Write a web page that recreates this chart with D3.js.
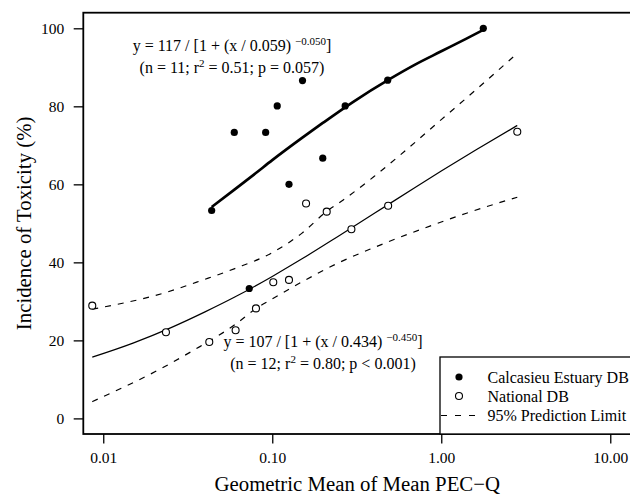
<!DOCTYPE html>
<html><head><meta charset="utf-8">
<script src="https://cdn.jsdelivr.net/npm/d3@7"></script>
<style>body{margin:0;background:#fff}svg{display:block}</style>
</head><body>
<svg id="c" width="630" height="496"></svg>
<script>
// Calcasieu Estuary DB (filled points)
const calcX = [0.0438, 0.0596, 0.0914, 0.107, 0.1256, 0.151, 0.199, 0.270, 0.482, 1.773, 0.0731];
const calcY = [53.3, 73.3, 73.3, 80.1, 60.0, 86.6, 66.7, 80.1, 86.7, 100.0, 33.3];
// National DB (open points)
const natX = [0.00861, 0.0235, 0.0424, 0.0607, 0.0801, 0.1014, 0.1256, 0.1585, 0.210, 0.294, 0.485, 2.817];
const natY = [28.9, 22.1, 19.6, 22.6, 28.2, 34.9, 35.5, 55.1, 53.0, 48.5, 54.5, 73.5];
const calcFitX = [0.0438, 0.06, 0.08, 0.1, 0.15, 0.2, 0.3, 0.5, 0.7, 1.0, 1.4, 1.773];
const calcFitY = [54.2, 58.7, 62.9, 66.2, 71.9, 75.8, 81.1, 87.1, 90.7, 94.1, 97.3, 99.6];
const natFitX = [0.00861, 0.015, 0.025, 0.04, 0.06, 0.1, 0.15, 0.25, 0.4, 0.7, 1.0, 1.6, 2.817];
const natFitY = [15.7, 19.3, 23.2, 27.3, 31.1, 36.4, 40.9, 46.9, 52.5, 59.2, 63.4, 68.8, 75.1];
const upX = [0.00861, 0.0227, 0.039, 0.06, 0.1, 0.15, 0.209, 0.263, 0.4, 0.571, 1.0, 1.6, 2.817];
const upY = [28.0, 32.1, 35.5, 38.4, 42.5, 47.5, 53.0, 56.0, 62.0, 67.5, 76.6, 84.2, 93.6];
const loX = [0.00861, 0.0227, 0.0373, 0.0424, 0.06, 0.081, 0.097, 0.15, 0.25, 0.4, 0.857, 1.41, 2.817];
const loY = [4.3, 13.1, 18.4, 19.8, 24.0, 28.3, 30.3, 35.0, 40.0, 43.8, 49.3, 52.6, 56.7];
// Axes
const xTicks = [0.01, 0.1, 1, 10];
const yTicks = [0, 20, 40, 60, 80, 100];
const xTitle = "Geometric Mean of Mean PEC\u2212Q";
const yTitle = "Incidence of Toxicity (%)";
const legendLabels = ["Calcasieu Estuary DB", "National DB", "95% Prediction Limit"];

const FONT = "'Liberation Serif','Times New Roman',serif";
const L = 83.3, R = 631.2, T = 12.7, B = 434;
const svg = d3.select("#c");
const x = d3.scaleLog().domain([0.00762, 13.3]).range([L, R]);
const y = d3.scaleLinear().domain([-4, 104]).range([B, T]);

// axes
const xa = svg.append("g").attr("transform", `translate(0,${B})`)
  .call(d3.axisBottom(x).tickValues(xTicks).tickFormat(d3.format(".2f")).tickSize(9.6).tickPadding(8.5));
const ya = svg.append("g").attr("transform", `translate(${L},0)`)
  .call(d3.axisLeft(y).tickValues(yTicks).tickFormat(d3.format("d")).tickSize(9.6).tickPadding(9.5));
[xa, ya].forEach(g => {
  g.select(".domain").remove();
  g.selectAll(".tick line").attr("stroke", "#000").attr("stroke-width", 1.3);
  g.selectAll(".tick text").attr("fill", "#000").style("font-family", FONT).style("font-size", "15.5px");
});

// lines
const zip = (xs, ys) => xs.map((v, i) => [v, ys[i]]);
const line = d3.line().x(d => x(d[0])).y(d => y(d[1])).curve(d3.curveMonotoneX);
svg.append("path").datum(zip(upX, upY)).attr("d", line).attr("fill", "none")
  .attr("stroke", "#000").attr("stroke-width", 1.2).attr("stroke-dasharray", "6,7");
svg.append("path").datum(zip(loX, loY)).attr("d", line).attr("fill", "none")
  .attr("stroke", "#000").attr("stroke-width", 1.2).attr("stroke-dasharray", "6,7");
svg.append("path").datum(zip(natFitX, natFitY)).attr("d", line).attr("fill", "none")
  .attr("stroke", "#000").attr("stroke-width", 1.2);
svg.append("path").datum(zip(calcFitX, calcFitY)).attr("d", line).attr("fill", "none")
  .attr("stroke", "#000").attr("stroke-width", 2.7);

// points
svg.append("g").selectAll("circle").data(zip(natX, natY)).join("circle")
  .attr("cx", d => x(d[0])).attr("cy", d => y(d[1])).attr("r", 3.5)
  .attr("fill", "#fff").attr("stroke", "#000").attr("stroke-width", 1.1);
svg.append("g").selectAll("circle").data(zip(calcX, calcY)).join("circle")
  .attr("cx", d => x(d[0])).attr("cy", d => y(d[1])).attr("r", 3.6).attr("fill", "#000");

// box
svg.append("rect").attr("x", L).attr("y", T).attr("width", R - L).attr("height", B - T)
  .attr("fill", "none").attr("stroke", "#000").attr("stroke-width", 1.8);

// equations
function eq(cx, by, parts) {
  const t = svg.append("text").attr("x", cx).attr("y", by).attr("text-anchor", "middle")
    .style("font-family", FONT).style("font-size", "16px").attr("fill", "#000");
  let raised = false;
  parts.forEach(p => {
    const sup = p[1];
    const ts = t.append("tspan").text(p[0]);
    if (sup && !raised) { ts.attr("dy", -6.5).style("font-size", "11px"); raised = true; }
    else if (!sup && raised) { ts.attr("dy", 6.5); raised = false; }
  });
}
eq(232, 51, [["y = 117 / [1 + (x / 0.059) ", false], ["\u22120.050", true], ["]", false]]);
eq(232, 73, [["(n = 11; r", false], ["2", true], [" = 0.51; p = 0.057)", false]]);
eq(323, 347, [["y = 107 / [1 + (x / 0.434) ", false], ["\u22120.450", true], ["]", false]]);
eq(323, 369, [["(n = 12; r", false], ["2", true], [" = 0.80; p < 0.001)", false]]);

// axis titles
svg.append("text").attr("x", (L + R) / 2).attr("y", 491).attr("text-anchor", "middle")
  .style("font-family", FONT).style("font-size", "20.8px").text(xTitle);
svg.append("text").attr("transform", `translate(31,${(T + B) / 2}) rotate(-90)`).attr("text-anchor", "middle")
  .style("font-family", FONT).style("font-size", "20.8px").text(yTitle);

// legend
const lg = svg.append("g");
lg.append("rect").attr("x", 440).attr("y", 357).attr("width", 192).attr("height", B - 357)
  .attr("fill", "#fff").attr("stroke", "#000").attr("stroke-width", 1.3);
const rows = [377, 396, 415.5];
lg.append("circle").attr("cx", 459).attr("cy", rows[0]).attr("r", 3.6).attr("fill", "#000");
lg.append("circle").attr("cx", 459).attr("cy", rows[1]).attr("r", 3.5).attr("fill", "#fff")
  .attr("stroke", "#000").attr("stroke-width", 1.1);
lg.append("line").attr("x1", 441).attr("x2", 476).attr("y1", rows[2]).attr("y2", rows[2])
  .attr("stroke", "#000").attr("stroke-width", 1.2).attr("stroke-dasharray", "6,8");
legendLabels.forEach((s, i) => {
  lg.append("text").attr("x", 487.5).attr("y", rows[i] + 5.5)
    .style("font-family", FONT).style("font-size", "16px").text(s);
});
</script>
</body></html>
